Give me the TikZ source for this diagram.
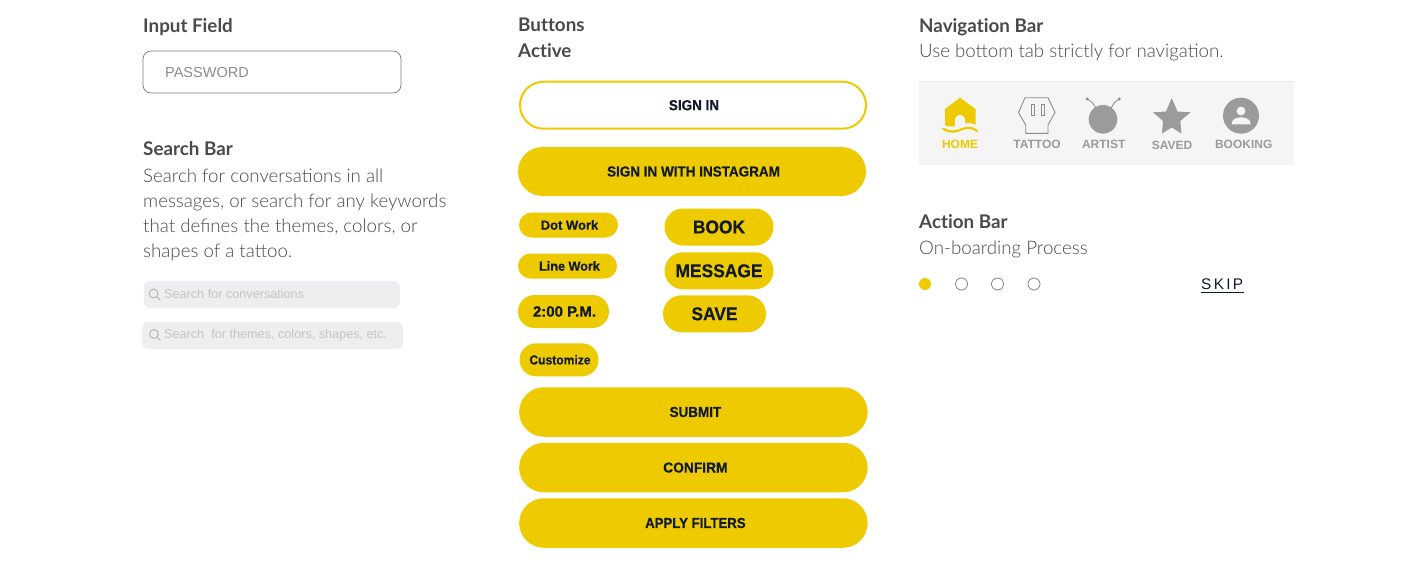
\documentclass[tikz,border=0pt]{standalone}
\usepackage{fontspec}
\usetikzlibrary{shapes.misc}
\setmainfont{Lato}[Ligatures=NoCommon]
\newfontfamily\lightf{Lato Light}
\newfontfamily\btnf{Liberation Sans}[BoldFont={Liberation Sans Bold}]
\definecolor{ybtn}{HTML}{EDCB00}
\definecolor{ink}{HTML}{121A2B}
\definecolor{head}{HTML}{4A4A4A}
\definecolor{icong}{HTML}{9B9B9B}
\definecolor{sfill}{HTML}{EEEEF0}
\definecolor{stext}{HTML}{C4C4C6}
\tikzset{
  heading/.style={anchor=base west,inner sep=0pt,text=head,font=\fontsize{18.8}{18.8}\selectfont\bfseries},
  bodytext/.style={anchor=base west,inner sep=0pt,text=head,font=\fontsize{18.7}{18.7}\selectfont\lightf},
  pill/.style={rounded rectangle,fill=ybtn,inner sep=0pt,text=ink},
  tablabel/.style={inner sep=0pt,text=icong,font=\btnf\fontsize{12}{12}\selectfont\bfseries},
  searchbar/.style={fill=sfill,rounded corners=6pt,inner sep=0pt},
  searchtext/.style={anchor=base west,inner sep=0pt,text=stext,font=\btnf\fontsize{12.65}{12.65}\selectfont},
  lens/.style={draw=black!32,line width=.8pt},
  dot/.style={circle,draw=black!50,line width=.8pt,minimum size=12pt,inner sep=0pt},
}
\newcommand{\btnfs}[2]{\btnf\fontsize{#1}{#1}\selectfont\bfseries\addfontfeature{FakeStretch=#2,FakeBold=0.5}}
\begin{document}
\begin{tikzpicture}[x=1pt,y=-1pt]
\useasboundingbox (0,0) rectangle (1403,565);
% left column
\node[heading] (t1) at (143,32) {Input Field};
\node[draw=black!52,line width=.7pt,rounded corners=8pt,minimum width=258pt,minimum height=42pt,inner sep=0pt] (pw) at (272,72) {};
\node[anchor=base west,inner sep=0pt,text=black!45,font=\btnf\fontsize{14.5}{14.5}\selectfont] (pwt) at (165,77) {PASSWORD};
\node[heading] (t2) at (143,155) {Search Bar};
\node[bodytext] (b1) at (143,182) {Search for conversations in all};
\node[bodytext] (b2) at (143,207) {messages, or search for any keywords};
\node[bodytext] (b3) at (143,232) {that defines the themes, colors, or};
\node[bodytext] (b4) at (143,257) {shapes of a tattoo.};
\node[searchbar,minimum width=256pt,minimum height=27pt] (s1) at (271.8,294.5) {};
\node[searchbar,minimum width=261pt,minimum height=27pt] (s2) at (272.5,335.5) {};
\node[searchtext] (s1t) at (164,298.6) {Search for conversations};
\node[searchtext] (s2t) at (164,338.6) {Search\ \ for themes, colors, shapes, etc.};
\draw[lens] (153.6,293.5) circle (4.4pt) (156.8,296.7) -- (160,300);
\draw[lens] (154,334) circle (4.4pt) (157.2,337.2) -- (160.4,340.5);
% middle column
\node[heading] (t3) at (518,31.5) {Buttons};
\node[heading] (t4) at (518,57.5) {Active};
\node[rounded rectangle,draw=ybtn,line width=2pt,fill=white,minimum width=346pt,minimum height=47pt,inner sep=0pt,text=ink,font=\btnfs{14.5}{0.93}] (b-signin) at (693,105.2) {\hspace*{2pt}SIGN IN};
\node[pill,minimum width=348pt,minimum height=49pt,font=\btnfs{14.5}{0.93}] (b-insta) at (692,171.5) {\hspace*{3pt}SIGN IN WITH INSTAGRAM};
\node[pill,minimum width=99pt,minimum height=25pt,font=\btnfs{13}{1}] (b-dot) at (568.5,225) {\hspace*{2pt}Dot Work};
\node[pill,minimum width=99pt,minimum height=25pt,font=\btnfs{13}{0.97}] (b-line) at (567.5,266) {\hspace*{4pt}Line Work};
\node[pill,minimum width=91pt,minimum height=33pt,font=\btnfs{15}{1}] (b-time) at (563.5,311.5) {\hspace*{2pt}2:00 P.M.};
\node[pill,minimum width=79pt,minimum height=33pt,font=\btnfs{13}{0.93}] (b-cust) at (559,359.8) {\hspace*{2pt}Customize};
\node[pill,minimum width=109pt,minimum height=37pt,font=\btnfs{18.5}{0.94}] (b-book) at (719,227) {BOOK};
\node[pill,minimum width=109pt,minimum height=37pt,font=\btnfs{18.5}{0.94}] (b-msg) at (719,270.8) {MESSAGE};
\node[pill,minimum width=103pt,minimum height=37pt,font=\btnfs{18.5}{0.94}] (b-save) at (714.5,313.8) {SAVE};
\node[pill,minimum width=348.5pt,minimum height=49.5pt,font=\btnfs{14.5}{0.93}] (b-sub) at (693.4,412) {\hspace*{4pt}SUBMIT};
\node[pill,minimum width=348.5pt,minimum height=49.5pt,font=\btnfs{14.5}{0.95}] (b-con) at (693.4,467.6) {\hspace*{4pt}CONFIRM};
\node[pill,minimum width=348.5pt,minimum height=49.5pt,font=\btnfs{14.5}{0.91}] (b-app) at (693.4,523) {\hspace*{4pt}APPLY FILTERS};
% right column
\node[heading] (t5) at (919,32) {Navigation Bar};
\node[bodytext] (b5) at (919,57) {Use bottom tab strictly for navigation.};
\fill[black!4] (919,82) rectangle (1294,165);
\draw[black!9,line width=.8pt] (919,81.6) -- (1294,81.6);
% home icon
\fill[ybtn] (960,97.7) -- (975.5,109) -- (975.5,124.5) .. controls (970,122.5) and (966,122.5) .. (960,125)
  .. controls (955,127) and (950,127) .. (945,125.5) -- (945,109) -- cycle;
\fill[black!4] (954.8,127) -- (954.8,120) arc[start angle=180,end angle=0,radius=5.2pt] -- (965.2,127) -- cycle;
\draw[ybtn,line width=2.3pt,line cap=round] (943,128.5) .. controls (950,133) and (955,132) .. (961,129.5) .. controls (967,127) and (972,127) .. (977,131);
% tattoo icon
\draw[black!45,line width=.9pt] (1025,97.7) -- (1048,97.7) -- (1055,112.5) -- (1048,125) -- (1048,133.3) -- (1025.7,133.3) -- (1025.7,125) -- (1018.5,112.5) -- cycle;
\draw[black!45,line width=.8pt] (1031,104.5) rectangle (1034,115.5) (1041,104.5) rectangle (1044,115.5);
% artist icon
\fill[icong] (1103,119.3) circle (14.3pt);
\draw[black!45,line width=.8pt] (1087.3,99) .. controls (1091,101) and (1094,104) .. (1096,108.5);
\draw[black!45,line width=.8pt] (1119.3,99) .. controls (1115.5,101) and (1113,104) .. (1111,108.5);
\fill[black!45] (1087.3,99) circle (1.6pt) (1119.3,99) circle (1.6pt);
% star icon
\fill[icong] (1171.7,98) -- (1177.5,111.5) -- (1190.5,112.3) -- (1180.3,121) -- (1181.5,133.5) -- (1171.7,127.5) -- (1162,133.5) -- (1163,121) -- (1153,112.3) -- (1166,111.5) -- cycle;
% booking icon
\fill[icong] (1241,115.7) circle (18pt);
\fill[black!4] (1241,111) circle (4.4pt);
\fill[black!4] (1231.7,124.3) .. controls (1231.7,119) and (1236,117.4) .. (1241,117.4) .. controls (1246,117.4) and (1250.7,119) .. (1250.7,124.3) -- cycle;
% tab labels
\node[tablabel,text=ybtn] (l1) at (960,144.5) {HOME};
\node[tablabel] (l2) at (1037,144.7) {TATTOO};
\node[tablabel] (l3) at (1103.7,144.7) {ARTIST};
\node[tablabel] (l4) at (1172,145.7) {SAVED};
\node[tablabel] (l5) at (1243.7,144.7) {BOOKING};
% action bar
\node[heading] (t6) at (919,228) {Action Bar};
\node[bodytext] (b6) at (919,254) {On-boarding Process};
\node[circle,fill=ybtn,minimum size=12pt,inner sep=0pt] (d1) at (925,284) {};
\node[dot] (d2) at (961.5,284) {};
\node[dot] (d3) at (997.5,284) {};
\node[dot] (d4) at (1034,284) {};
\node[anchor=base west,inner sep=0pt,text=ink,font=\btnf\fontsize{15.4}{15.4}\selectfont] (skip) at (1201,289.5) {\addfontfeature{LetterSpace=15}SKIP};
\draw[ink,line width=.8pt] (1201,292.4) -- (1243.5,292.4);
\end{tikzpicture}
\end{document}
